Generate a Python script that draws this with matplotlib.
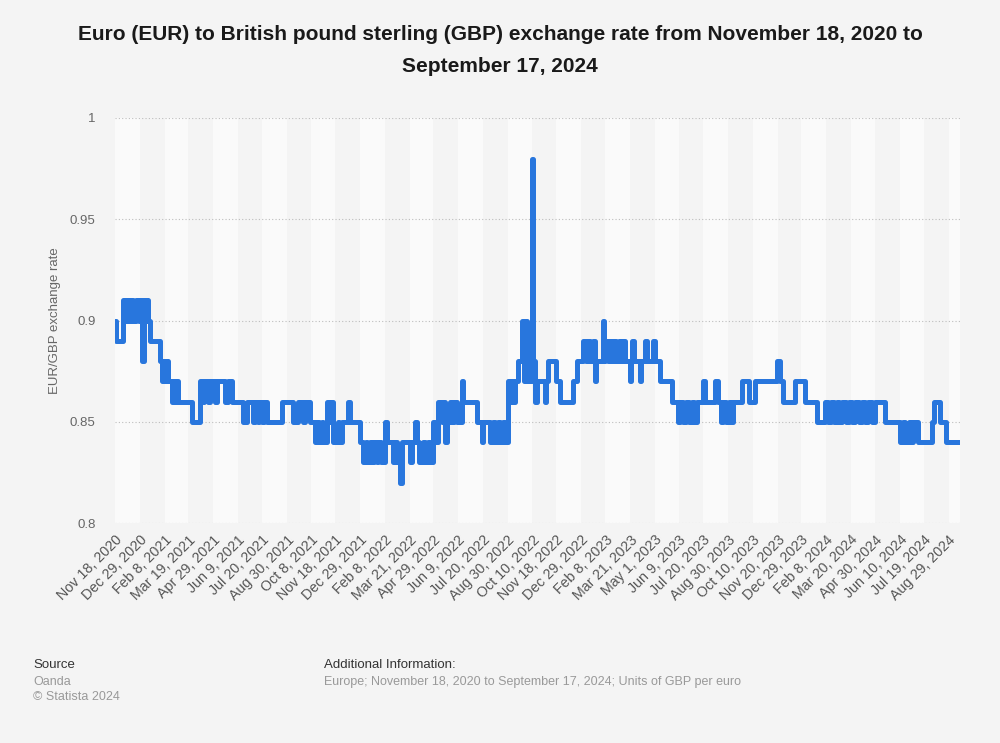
import matplotlib
matplotlib.use('Agg')
import matplotlib.pyplot as plt
import pandas as pd

plt.rcParams['font.family'] = ['Liberation Sans', 'DejaVu Sans']

# step points (date the rate changes, new rate)
change_dates = [
    '2020-11-18', '2020-11-20', '2020-12-01', '2020-12-04', '2020-12-08', '2020-12-11', '2020-12-15',
    '2020-12-18', '2020-12-22', '2020-12-28', '2020-12-31', '2021-01-02', '2021-01-05', '2021-01-08',
    '2021-01-10', '2021-01-12', '2021-01-15', '2021-02-01', '2021-02-04', '2021-02-07', '2021-02-10',
    '2021-02-12', '2021-02-14', '2021-02-20', '2021-02-23', '2021-02-26', '2021-03-01', '2021-03-03',
    '2021-03-25', '2021-04-08', '2021-04-12', '2021-04-15', '2021-04-21', '2021-04-24', '2021-05-03',
    '2021-05-06', '2021-05-19', '2021-05-24', '2021-05-31', '2021-06-18', '2021-06-25', '2021-07-05',
    '2021-07-08', '2021-07-12', '2021-07-15', '2021-07-20', '2021-07-23', '2021-07-28', '2021-08-22',
    '2021-09-09', '2021-09-17', '2021-09-25', '2021-09-28', '2021-10-07', '2021-10-15', '2021-10-19',
    '2021-10-22', '2021-10-26', '2021-10-29', '2021-11-04', '2021-11-08', '2021-11-10', '2021-11-14',
    '2021-11-22', '2021-11-24', '2021-11-29', '2021-12-09', '2021-12-12', '2021-12-29', '2022-01-03',
    '2022-01-07', '2022-01-10', '2022-01-14', '2022-01-18', '2022-01-21', '2022-01-25', '2022-01-28',
    '2022-02-01', '2022-02-08', '2022-02-11', '2022-02-21', '2022-02-24', '2022-02-28', '2022-03-05',
    '2022-03-08', '2022-03-21', '2022-03-24', '2022-03-30', '2022-04-02', '2022-04-06', '2022-04-12',
    '2022-04-15', '2022-04-20', '2022-04-24', '2022-04-29', '2022-05-02', '2022-05-07', '2022-05-13',
    '2022-05-16', '2022-05-18', '2022-05-22', '2022-05-26', '2022-05-30', '2022-06-03', '2022-06-07',
    '2022-06-16', '2022-06-17', '2022-07-11', '2022-07-19', '2022-07-20', '2022-08-01', '2022-08-05',
    '2022-08-09', '2022-08-14', '2022-08-18', '2022-08-23', '2022-08-26', '2022-08-31', '2022-09-03',
    '2022-09-06', '2022-09-09', '2022-09-12', '2022-09-16', '2022-09-23', '2022-09-26', '2022-09-28',
    '2022-10-01', '2022-10-10', '2022-10-11', '2022-10-14', '2022-10-18', '2022-10-31', '2022-11-02',
    '2022-11-05', '2022-11-18', '2022-11-25', '2022-12-16', '2022-12-23', '2023-01-02', '2023-01-06',
    '2023-01-10', '2023-01-14', '2023-01-18', '2023-01-22', '2023-01-24', '2023-02-04', '2023-02-06',
    '2023-02-08', '2023-02-12', '2023-02-15', '2023-02-19', '2023-02-22', '2023-02-26', '2023-03-02',
    '2023-03-06', '2023-03-09', '2023-03-13', '2023-03-21', '2023-03-23', '2023-03-24', '2023-03-27',
    '2023-04-06', '2023-04-08', '2023-04-15', '2023-04-18', '2023-04-28', '2023-05-01', '2023-05-10',
    '2023-05-29', '2023-06-08', '2023-06-12', '2023-06-16', '2023-06-21', '2023-06-26', '2023-07-01',
    '2023-07-05', '2023-07-10', '2023-07-20', '2023-07-23', '2023-08-09', '2023-08-14', '2023-08-18',
    '2023-08-22', '2023-08-27', '2023-08-31', '2023-09-04', '2023-09-07', '2023-09-22', '2023-10-04',
    '2023-10-14', '2023-11-19', '2023-11-24', '2023-11-29', '2023-12-19', '2024-01-05', '2024-01-25',
    '2024-02-07', '2024-02-12', '2024-02-16', '2024-02-21', '2024-02-26', '2024-03-01', '2024-03-06',
    '2024-03-12', '2024-03-18', '2024-03-22', '2024-03-27', '2024-04-02', '2024-04-08', '2024-04-12',
    '2024-04-18', '2024-04-24', '2024-04-29', '2024-05-16', '2024-06-10', '2024-06-14', '2024-06-18',
    '2024-06-24', '2024-06-28', '2024-07-02', '2024-07-10', '2024-08-02', '2024-08-05', '2024-08-15',
    '2024-08-25',
]
eur_gbp = [
    0.90, 0.89, 0.91, 0.90, 0.91, 0.90, 0.91,
    0.90, 0.91, 0.90, 0.91, 0.88, 0.91, 0.90,
    0.91, 0.90, 0.89, 0.88, 0.87, 0.88, 0.87,
    0.88, 0.87, 0.86, 0.87, 0.86, 0.87, 0.86,
    0.85, 0.87, 0.86, 0.87, 0.86, 0.87, 0.86,
    0.87, 0.86, 0.87, 0.86, 0.85, 0.86, 0.85,
    0.86, 0.85, 0.86, 0.85, 0.86, 0.85, 0.86,
    0.85, 0.86, 0.85, 0.86, 0.85, 0.84, 0.85,
    0.84, 0.85, 0.84, 0.86, 0.85, 0.86, 0.84,
    0.85, 0.84, 0.85, 0.86, 0.85, 0.84, 0.83,
    0.84, 0.83, 0.84, 0.83, 0.84, 0.83, 0.84,
    0.83, 0.85, 0.84, 0.83, 0.84, 0.83, 0.82,
    0.84, 0.83, 0.84, 0.85, 0.84, 0.83, 0.84,
    0.83, 0.84, 0.83, 0.85, 0.84, 0.86, 0.85,
    0.86, 0.84, 0.85, 0.86, 0.85, 0.86, 0.85,
    0.87, 0.86, 0.85, 0.84, 0.85, 0.84, 0.85,
    0.84, 0.85, 0.84, 0.85, 0.84, 0.87, 0.86,
    0.87, 0.86, 0.87, 0.88, 0.90, 0.87, 0.90,
    0.87, 0.98, 0.88, 0.86, 0.87, 0.86, 0.87,
    0.88, 0.87, 0.86, 0.87, 0.88, 0.89, 0.88,
    0.89, 0.88, 0.89, 0.87, 0.88, 0.90, 0.88,
    0.89, 0.88, 0.89, 0.88, 0.89, 0.88, 0.89,
    0.88, 0.89, 0.88, 0.87, 0.88, 0.89, 0.88,
    0.87, 0.88, 0.89, 0.88, 0.89, 0.88, 0.87,
    0.86, 0.85, 0.86, 0.85, 0.86, 0.85, 0.86,
    0.85, 0.86, 0.87, 0.86, 0.87, 0.86, 0.85,
    0.86, 0.85, 0.86, 0.85, 0.86, 0.87, 0.86,
    0.87, 0.88, 0.87, 0.86, 0.87, 0.86, 0.85,
    0.86, 0.85, 0.86, 0.85, 0.86, 0.85, 0.86,
    0.85, 0.86, 0.85, 0.86, 0.85, 0.86, 0.85,
    0.86, 0.85, 0.86, 0.85, 0.84, 0.85, 0.84,
    0.85, 0.84, 0.85, 0.84, 0.85, 0.86, 0.85,
    0.84,
]
end_date = '2024-09-17'

tick_dates = [
    '2020-11-18', '2020-12-29', '2021-02-08', '2021-03-19', '2021-04-29', '2021-06-09', '2021-07-20',
    '2021-08-30', '2021-10-08', '2021-11-18', '2021-12-29', '2022-02-08', '2022-03-21', '2022-04-29',
    '2022-06-09', '2022-07-20', '2022-08-30', '2022-10-10', '2022-11-18', '2022-12-29', '2023-02-08',
    '2023-03-21', '2023-05-01', '2023-06-09', '2023-07-20', '2023-08-30', '2023-10-10', '2023-11-20',
    '2023-12-29', '2024-02-08', '2024-03-20', '2024-04-30', '2024-06-10', '2024-07-19', '2024-08-29',
]

bg = '#f4f4f4'
blue = '#2876dd'

x = pd.to_datetime(change_dates + [end_date])
y = eur_gbp + [eur_gbp[-1]]
ticks = pd.to_datetime(tick_dates)
end = pd.Timestamp(end_date)

fig = plt.figure(figsize=(10, 7.43), dpi=100, facecolor=bg)
ax = fig.add_axes([0.115, 1 - 523 / 743, 0.845, (523 - 118) / 743])
ax.set_facecolor(bg)

# alternating light bands between ticks
for i in range(0, len(ticks), 2):
    right = ticks[i + 1] if i + 1 < len(ticks) else end
    ax.axvspan(ticks[i], right, color='#fafafa', lw=0, zorder=0)

ax.plot(x, y, drawstyle='steps-post', color=blue, lw=3.6,
        solid_joinstyle='round', solid_capstyle='round', zorder=3)

ax.set_xlim(ticks[0], end)
ax.set_ylim(0.8, 1.0)
ax.set_yticks([0.8, 0.85, 0.9, 0.95, 1.0])
ax.set_yticklabels(['0.8', '0.85', '0.9', '0.95', '1'])
ax.yaxis.grid(True, linestyle=(0, (1, 2)), color='#bdbdbd', lw=0.8, zorder=1)
ax.set_axisbelow(True)

labels = [d.strftime('%b ') + str(d.day) + d.strftime(', %Y') for d in ticks]
ax.set_xticks(ticks)
ax.set_xticklabels(labels, rotation=45, ha='right', rotation_mode='anchor')
ax.tick_params(axis='x', length=0, pad=7, labelsize=10.3, labelcolor='#555555')
ax.tick_params(axis='y', length=0, pad=14, labelsize=9.5, labelcolor='#666666')
for s in ax.spines.values():
    s.set_visible(False)

ax.set_ylabel('EUR/GBP exchange rate', fontsize=9.5, color='#666666', labelpad=6)

fig.text(0.5, 1 - 35 / 743, 'Euro (EUR) to British pound sterling (GBP) exchange rate from November 18, 2020 to',
         ha='center', va='center', fontsize=15, fontweight='bold', color='#1a1a1a')
fig.text(0.5, 1 - 67 / 743, 'September 17, 2024',
         ha='center', va='center', fontsize=15, fontweight='bold', color='#1a1a1a')

fig.text(33 / 1000, 1 - 665 / 743, 'Source', fontsize=9.5, color='#333333', va='center')
fig.text(33 / 1000, 1 - 682 / 743, 'Oanda', fontsize=9, color='#999999', va='center')
fig.text(33 / 1000, 1 - 697 / 743, '\u00a9 Statista 2024', fontsize=9, color='#999999', va='center')
fig.text(324 / 1000, 1 - 665 / 743, 'Additional Information:', fontsize=9.5, color='#333333', va='center')
fig.text(324 / 1000, 1 - 682 / 743,
         'Europe; November 18, 2020 to September 17, 2024; Units of GBP per euro',
         fontsize=9, color='#999999', va='center')

fig.savefig('out.png', dpi=100, facecolor=bg)
